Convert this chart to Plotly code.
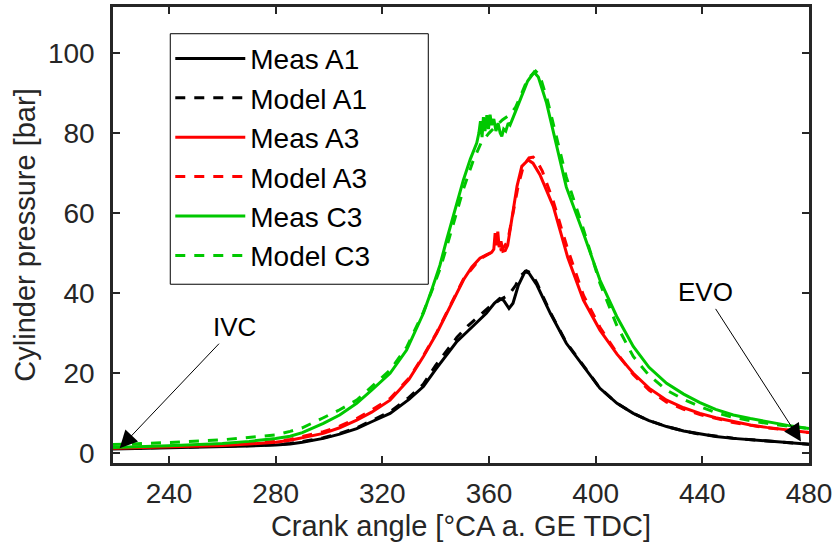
import plotly.graph_objects as go

# Crank angle [deg CA a. GE TDC] and cylinder pressure [bar] for each case
ca_meas_a1 = [219, 240, 260, 270, 280, 285.4, 290, 297.9, 304, 310.4, 316, 322.9, 330, 335.4, 340,
              344.1, 348, 352, 356, 359, 362, 364, 365.5, 367.5, 369, 371, 373.5, 375, 378, 383,
              389, 395.4, 401.6, 408, 414.1, 420, 426.6, 433, 439.1, 445, 451.6, 458, 464.1, 472,
              480]
p_meas_a1 = [1.1, 1.35, 1.65, 1.85, 2.1, 2.35, 2.8, 3.75, 4.8, 6.2, 7.9, 10.0, 13.5, 16.7, 21.0,
             24.6, 28.0, 30.5, 33.0, 35.0, 37.5, 38.7, 38.2, 36.2, 37.5, 42.0, 45.4, 45.0, 42.0,
             35.0, 27.5, 21.7, 16.25, 12.5, 10.0, 8.2, 6.7, 5.6, 4.8, 4.2, 3.75, 3.4, 3.1, 2.7,
             2.3]

ca_model_a1 = [219, 240, 260, 270, 280, 285.4, 290, 297.9, 304, 310.4, 316, 322.9, 330, 335.4,
               340, 344.1, 348, 352, 356, 360, 364, 367.5, 370, 372, 374, 376, 378, 383, 389,
               395.4, 401.6, 408, 414.1, 420, 426.6, 433, 439.1, 451.6, 464.1, 480]
p_model_a1 = [1.2, 1.45, 1.75, 1.95, 2.2, 2.5, 2.95, 3.9, 5.0, 6.4, 8.2, 10.4, 14.0, 17.3,
              22.0, 25.6, 29.0, 31.8, 34.2, 36.5, 38.3, 39.6, 42.0, 44.5, 45.6, 45.0, 42.5, 35.2,
              27.7, 21.8, 16.3, 12.5, 10.0, 8.2, 6.7, 5.6, 4.8, 3.8, 3.1, 2.3]

ca_meas_a3 = [219, 240, 260, 270, 280, 285.4, 290, 297.9, 304, 310.4, 316, 322.9, 330, 335.4,
              340.4, 344.8, 350.4, 353.5, 356.6, 359, 361, 361.8, 362.3, 362.8, 363.3, 363.8,
              364.5, 365.2, 366.1, 367, 368.6, 370.5, 372.3, 374.7, 376.5, 379.1, 384.1, 389.5,
              395.4, 401.6, 408, 414.1, 420, 426.6, 433, 439.1, 445, 451.6, 458, 464.1, 472, 480]
p_meas_a3 = [1.3, 1.6, 2.0, 2.35, 2.8, 3.3, 3.9, 5.0, 6.4, 8.3, 10.3, 13.3, 18.5, 24.2,
             30.0, 35.8, 43.3, 46.5, 48.75, 49.6, 50.2, 51.0, 55.0, 52.0, 55.4, 51.5,
             53.0, 50.5, 50.7, 52.0, 58.3, 66.7, 71.7, 73.3, 72.5, 69.6, 61.7, 49.0,
             38.3, 30.8, 24.8, 20.0, 16.3, 13.3, 11.4, 10.0, 8.9, 7.9, 7.1, 6.5, 5.8, 5.2]

ca_model_a3 = [219, 240, 260, 270, 280, 285.4, 290, 297.9, 304, 310.4, 316, 322.9, 330, 335.4,
               340.4, 344.8, 350.4, 356.6, 361, 365, 367, 369, 371, 373, 375, 376.6, 378, 380,
               384.1, 389.5, 395.4, 401.6, 408, 414.1, 420, 426.6, 433, 439.1, 451.6, 464.1, 480]
p_model_a3 = [1.5, 1.8, 2.2, 2.55, 3.0, 3.5, 4.2, 5.4, 6.8, 8.7, 10.8, 13.7, 18.8, 24.4,
              30.2, 36.0, 43.5, 48.6, 50.2, 51.0, 53.0, 60.0, 67.0, 72.0, 73.8, 74.0, 73.0, 70.5,
              63.0, 51.0, 39.5, 31.5, 25.0, 19.7, 15.8, 12.8, 11.0, 9.7, 7.7, 6.4, 5.2]

ca_meas_c3 = [219, 240, 260, 270, 280, 285.4, 290, 297.9, 304, 310.4, 316, 322.9, 329.1, 335.4,
              338.5, 341.6, 344.1, 347, 350.4, 353, 355.4, 356.2, 356.8, 357.4, 357.9, 358.5,
              359.2, 359.8, 360.4, 361, 361.8, 362.6, 363.4, 364.2, 364.8, 365.5, 366.3, 367.2,
              367.9, 370, 372, 374.5, 376.9, 378.5, 381.6, 385.4, 389, 395.4, 401.6, 407.9,
              414.1, 420, 426.6, 433, 439.1, 445, 451.6, 458, 464.1, 472, 480]
p_meas_c3 = [1.5, 1.9, 2.5, 3.0, 3.7, 4.3, 5.2, 7.5, 9.6, 12.5, 15.8, 20.0, 25.8, 35.0,
             40.8, 47.0, 53.3, 60.5, 68.3, 73.5, 77.5, 80.0, 83.0, 79.0, 84.0, 80.5,
             84.5, 81.0, 84.6, 82.0, 83.5, 80.5, 82.5, 80.0, 79.2, 81.0, 80.5, 82.5,
             82.0, 85.5, 89.0, 93.0, 95.2, 94.0, 87.5, 76.7, 66.5, 55.0, 43.3, 34.2,
             26.7, 21.5, 17.5, 14.8, 12.7, 11.0, 9.6, 8.7, 7.9, 7.0, 6.2]

ca_model_c3 = [219, 240, 260, 270, 280, 285.4, 290, 297.9, 304, 310.4, 316, 322.9, 329.1, 335.4,
               338.5, 341.6, 344.1, 347, 350.4, 354, 357, 360, 363, 365, 367.9, 370, 372, 374.5,
               377.5, 379, 382, 385.4, 389, 395.4, 401.6, 407.9, 414.1, 420, 426.6, 433, 439.1,
               445, 451.6, 458, 464.1, 472, 480]
p_model_c3 = [2.2, 2.7, 3.4, 3.95, 4.6, 5.5, 6.4, 8.9, 10.9, 13.3, 16.6, 20.8, 26.5, 35.3,
              40.5, 46.0, 51.5, 58.0, 66.0, 73.0, 77.5, 80.0, 82.0, 83.3, 84.6, 86.5, 89.5, 93.5,
              95.5, 94.5, 88.0, 78.5, 69.0, 56.0, 42.5, 32.0, 24.2, 19.5, 15.8, 13.5, 11.7,
              10.2, 9.0, 8.2, 7.5, 6.8, 6.2]

x_ticks = [240, 280, 320, 360, 400, 440, 480]
y_ticks = [0, 20, 40, 60, 80, 100]

series = [
    ("Meas A1", ca_meas_a1, p_meas_a1, "#000000", "solid"),
    ("Model A1", ca_model_a1, p_model_a1, "#000000", "10px,9px"),
    ("Meas A3", ca_meas_a3, p_meas_a3, "#ff0000", "solid"),
    ("Model A3", ca_model_a3, p_model_a3, "#ff0000", "10px,9px"),
    ("Meas C3", ca_meas_c3, p_meas_c3, "#00c800", "solid"),
    ("Model C3", ca_model_c3, p_model_c3, "#00c800", "10px,9px"),
]

fig = go.Figure()
for i, (name, xs, ys, color, dash) in enumerate(series):
    fig.add_trace(go.Scatter(
        x=xs, y=ys, mode="lines", name=name, legendgroup=f"g{i}",
        line=dict(color=color, width=3, dash=dash),
    ))

font_family = "Liberation Sans, Arial"
axis_common = dict(
    showline=True, linecolor="#262626", linewidth=2.5, mirror="ticks",
    ticks="inside", ticklen=7, tickwidth=1.5, tickcolor="#262626",
    showgrid=False, zeroline=False, ticklabeloverflow="allow",
    tickfont=dict(family=font_family, size=28, color="#262626"),
)

fig.update_xaxes(
    range=[219, 480], tickvals=x_ticks, ticklabelstandoff=4,
    title=dict(text="Crank angle [°CA a. GE TDC]", standoff=8,
               font=dict(family=font_family, size=29, color="#262626")),
    **axis_common,
)
fig.update_yaxes(
    range=[-2.4, 111.5], tickvals=y_ticks, ticklabelstandoff=10,
    title=dict(text="Cylinder pressure [bar]", standoff=4,
               font=dict(family=font_family, size=29, color="#262626")),
    **axis_common,
)

ann_font = dict(family=font_family, size=26, color="#000000")
fig.add_annotation(x=221.5, y=1.3, text="IVC", showarrow=True, ax=115, ay=-121,
                   arrowhead=2, arrowsize=3.5, arrowwidth=1, arrowcolor="#000000", font=ann_font)
fig.add_annotation(x=477, y=3.0, text="EVO", showarrow=True, ax=-96, ay=-149,
                   arrowhead=2, arrowsize=3.5, arrowwidth=1, arrowcolor="#000000", font=ann_font)

# Legend frame: a white box with a thin black border behind the legend entries
legend_left, legend_top = 0.0823, 0.9414
legend_right, legend_bottom = 0.453, 0.392
fig.add_shape(type="rect", xref="paper", yref="paper",
              x0=legend_left, x1=legend_right, y0=legend_bottom, y1=legend_top,
              fillcolor="white", line=dict(color="#000000", width=1), layer="above")

fig.update_layout(
    width=832, height=553,
    margin=dict(l=113, r=23, t=7, b=90, autoexpand=False),
    paper_bgcolor="white", plot_bgcolor="white",
    showlegend=True,
    legend=dict(
        x=legend_left, y=legend_top, xanchor="left", yanchor="top",
        bgcolor="rgba(0,0,0,0)", borderwidth=0,
        font=dict(family=font_family, size=28, color="#000000"),
        itemwidth=70, traceorder="grouped", tracegroupgap=0,
    ),
)

fig.write_html("out.html")
